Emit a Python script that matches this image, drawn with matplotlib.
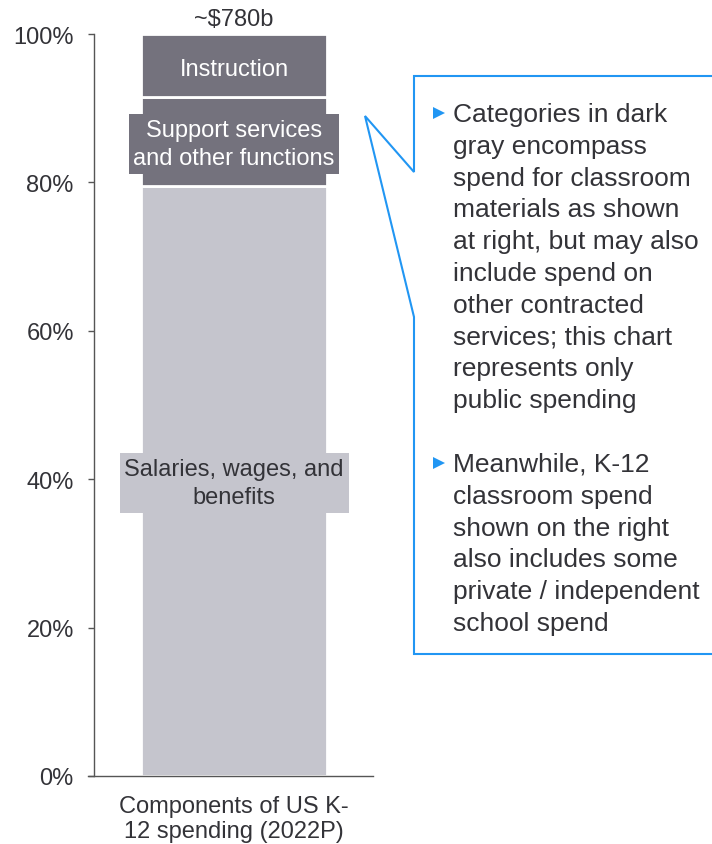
import matplotlib.pyplot as plt
from matplotlib.lines import Line2D

plt.rcParams['font.family'] = ['Liberation Sans', 'DejaVu Sans']

# stacked shares of K-12 spending, bottom to top (%)
segments = ["Salaries, wages, and\nbenefits",
            "Support services\nand other functions",
            "Instruction"]
shares = [79.5, 12.0, 8.5]
seg_colors = ['#c5c5cd', '#74727d', '#74727d']
seg_text = ['#333338', 'white', 'white']
bar_label = "Components of US K-\n12 spending (2022P)"
total_label = "~$780b"
yticks = [0, 20, 40, 60, 80, 100]

notes = [
    "Categories in dark\ngray encompass\nspend for classroom\nmaterials as shown\nat right, but may also\n"
    "include spend on\nother contracted\nservices; this chart\nrepresents only\npublic spending",
    "Meanwhile, K-12\nclassroom spend\nshown on the right\nalso includes some\nprivate / independent\nschool spend",
]

TXT = '#333338'
BLUE = '#2196f3'

fig = plt.figure(figsize=(7.12, 8.45), dpi=100)
ax = fig.add_axes([88 / 712, 68 / 845, 285 / 712, 742 / 845])

bottom = 0
for name, val, col, tc in zip(segments, shares, seg_colors, seg_text):
    ax.bar(0, val, bottom=bottom, width=0.81, color=col, edgecolor='white', linewidth=2)
    if name != "Instruction":
        ax.text(0, bottom + val / 2 - 0.3, name, ha='center', va='center', fontsize=17,
                color=tc, linespacing=1.36,
                bbox=dict(boxstyle='square,pad=0.2', fc=col, ec='none'))
    else:
        ax.text(0, bottom + val / 2 - 0.45, name, ha='center', va='center', fontsize=17,
                color=tc)
    bottom += val

ax.text(0, bottom + 0.6, total_label, ha='center', va='bottom', fontsize=17, color=TXT)

ax.set_xlim(-0.635, 0.604)
ax.set_ylim(0, 100)
for s in ['top', 'right']:
    ax.spines[s].set_visible(False)
ax.spines['left'].set_position(('data', -0.609))
ax.spines['left'].set_bounds(0, 100)
for s in ['left', 'bottom']:
    ax.spines[s].set_color('#555555')
    ax.spines[s].set_linewidth(1)
ax.set_yticks(yticks, [f"{t}%" for t in yticks])
ax.tick_params(axis='y', length=4.5, width=1, color='#555555', labelsize=17,
               labelcolor=TXT, pad=10)
ax.set_xticks([0], [bar_label])
ax.tick_params(axis='x', length=0, labelsize=17, labelcolor=TXT, pad=14)
for lab in ax.get_xticklabels():
    lab.set_linespacing(1.15)

# callout box with notes, in pixel coords
ov = fig.add_axes([0, 0, 1, 1], zorder=5)
ov.set_xlim(0, 712)
ov.set_ylim(845, 0)
ov.axis('off')
ov.patch.set_alpha(0)
xs = [720, 414, 414, 365, 414, 414, 720]
ys = [77, 77, 173, 117, 318, 655, 655]
ov.add_line(Line2D(xs, ys, color=BLUE, linewidth=1.5, solid_joinstyle='miter'))

note_tops = [103, 453]
for top, note in zip(note_tops, notes):
    ov.plot(439, top + 11, marker='>', color=BLUE, markersize=9, markeredgewidth=0)
    ov.text(453, top, note, ha='left', va='top', fontsize=19, color=TXT,
            linespacing=1.41)

fig.savefig('out.png', dpi=100)
